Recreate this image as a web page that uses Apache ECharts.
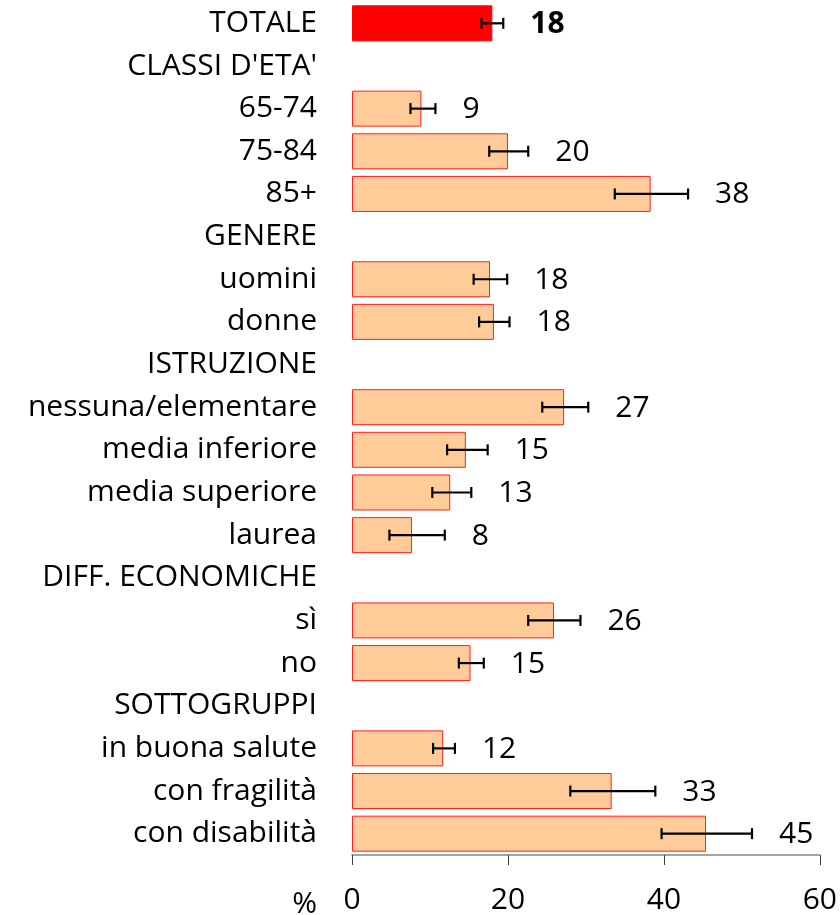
<!DOCTYPE html>
<html>
<head>
<meta charset="utf-8">
<script src="https://cdn.jsdelivr.net/npm/echarts@6/dist/echarts.min.js"></script>
<style>
  html, body { margin: 0; padding: 0; background: #fff; }
  #chart { width: 840px; height: 915px; }
</style>
</head>
<body>
<div id="chart"></div>
<script>
var categories = ['TOTALE', "CLASSI D'ETA'", '65-74', '75-84', '85+', 'GENERE', 'uomini', 'donne',
    'ISTRUZIONE', 'nessuna/elementare', 'media inferiore', 'media superiore', 'laurea',
    'DIFF. ECONOMICHE', 'sì', 'no', 'SOTTOGRUPPI', 'in buona salute', 'con fragilità', 'con disabilità'];
var values = [18.0, null, 8.9, 20.0, 38.3, null, 17.7, 18.2, null, 27.2, 14.6, 12.6, 7.7,
    null, 25.9, 15.2, null, 11.7, 33.3, 45.4];
var lower = [16.6, null, 7.5, 17.6, 33.7, null, 15.6, 16.3, null, 24.4, 12.2, 10.3, 4.8,
    null, 22.6, 13.7, null, 10.4, 28.0, 39.7];
var upper = [19.4, null, 10.7, 22.6, 43.1, null, 19.9, 20.2, null, 30.3, 17.4, 15.3, 11.9,
    null, 29.3, 16.9, null, 13.2, 38.9, 51.3];
var labels = [18, null, 9, 20, 38, null, 18, 18, null, 27, 15, 13, 8, null, 26, 15, null, 12, 33, 45];
var xTicks = [0, 20, 40, 60];

var font = '"Open Sans"';
var myChart = echarts.init(document.getElementById('chart'));

var barData = [];
var errData = [];
for (var i = 0; i < categories.length; i++) {
    if (values[i] === null) {
        barData.push(null);
        continue;
    }
    if (i === 0) {
        barData.push({ value: values[i], itemStyle: { color: '#ff0000', borderColor: '#ff0000' } });
    } else {
        barData.push(values[i]);
    }
    errData.push([i, lower[i], upper[i], labels[i]]);
}

option = {
    animation: false,
    grid: { left: 352, right: 20, top: 2, bottom: 59 },
    xAxis: {
        type: 'value',
        min: xTicks[0],
        max: xTicks[xTicks.length - 1],
        interval: 20,
        splitLine: { show: false },
        axisLine: { show: true, lineStyle: { color: '#868686', width: 1.5 } },
        axisTick: { show: true, length: 10, lineStyle: { color: '#404040', width: 1 } },
        axisLabel: { color: '#000', fontFamily: font, fontSize: 30, margin: 30 }
    },
    yAxis: {
        type: 'category',
        inverse: true,
        data: categories,
        axisLine: { show: false },
        axisTick: { show: false },
        axisLabel: { color: '#000', fontFamily: font, fontSize: 30, margin: 35 }
    },
    graphic: [{
        type: 'text',
        x: 317,
        y: 904,
        style: { text: '%', font: '30px ' + font, fill: '#000', textAlign: 'right', textVerticalAlign: 'middle' }
    }],
    series: [
        {
            type: 'bar',
            data: barData,
            barWidth: 36,
            itemStyle: { color: '#ffcc99', borderColor: '#ff2020', borderWidth: 1 }
        },
        {
            type: 'custom',
            data: errData,
            encode: { x: [1, 2], y: 0 },
            z: 5,
            renderItem: function (params, api) {
                var lo = api.coord([api.value(1), api.value(0)]);
                var hi = api.coord([api.value(2), api.value(0)]);
                var cap = 5.5;
                var st = { stroke: '#000', lineWidth: 2.2 };
                var bold = api.value(0) === 0;
                return {
                    type: 'group',
                    children: [
                        { type: 'line', shape: { x1: lo[0], y1: lo[1], x2: hi[0], y2: hi[1] }, style: st },
                        { type: 'line', shape: { x1: lo[0], y1: lo[1] - cap, x2: lo[0], y2: lo[1] + cap }, style: st },
                        { type: 'line', shape: { x1: hi[0], y1: hi[1] - cap, x2: hi[0], y2: hi[1] + cap }, style: st },
                        {
                            type: 'text',
                            x: hi[0] + 27,
                            y: hi[1] + 1,
                            style: {
                                text: String(api.value(3)),
                                font: (bold ? 'bold ' : '') + '30px ' + font,
                                fill: '#000',
                                textAlign: 'left',
                                textVerticalAlign: 'middle'
                            }
                        }
                    ]
                };
            }
        }
    ]
};

myChart.setOption(option);
</script>
</body>
</html>
